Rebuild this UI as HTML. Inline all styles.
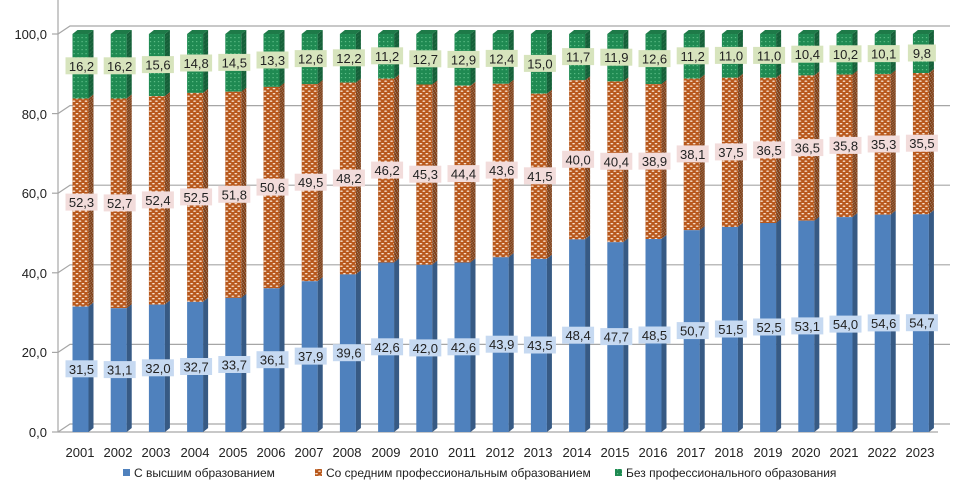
<!DOCTYPE html>
<html><head><meta charset="utf-8"><style>
html,body{margin:0;padding:0;background:#fff;}
svg{display:block;font-family:"Liberation Sans",Arial,sans-serif;}
.t{font-size:13px;fill:#222;text-anchor:middle;}
.ax{font-size:13px;fill:#222;}
</style></head><body>
<svg width="973" height="493" viewBox="0 0 973 493" xmlns="http://www.w3.org/2000/svg">
<defs>
<pattern id="po" width="6" height="5" patternUnits="userSpaceOnUse">
<rect width="6" height="5" fill="#b8581c"/>
<ellipse cx="1.5" cy="1.2" rx="1.4" ry="0.7" fill="#fbe7d6"/>
<ellipse cx="4.5" cy="3.7" rx="1.4" ry="0.7" fill="#fbe7d6"/>
</pattern>
<pattern id="pg" width="4" height="4" patternUnits="userSpaceOnUse">
<rect width="4" height="4" fill="#1f8a52"/>
<rect x="1" y="1" width="1.2" height="1.2" fill="#5fbf88"/>
</pattern>
</defs>
<g stroke="#a6a6a6" stroke-width="1.2" fill="none">
<line x1="58" y1="0" x2="58" y2="432"/>
<line x1="58" y1="432" x2="938" y2="432"/>
<polyline points="58,432 70,424 950,424"/>
<polyline points="58,352.4 70,344.4 950,344.4"/>
<polyline points="58,272.8 70,264.8 950,264.8"/>
<polyline points="58,193.2 70,185.2 950,185.2"/>
<polyline points="58,113.6 70,105.6 950,105.6"/>
<polyline points="58,34 70,26 950,26"/>
<line x1="52" y1="432" x2="58" y2="432"/><line x1="52" y1="352.4" x2="58" y2="352.4"/><line x1="52" y1="272.8" x2="58" y2="272.8"/><line x1="52" y1="193.2" x2="58" y2="193.2"/><line x1="52" y1="113.6" x2="58" y2="113.6"/><line x1="52" y1="34" x2="58" y2="34"/>
</g>
<g class="ax" text-anchor="end">
<text x="47" y="437">0,0</text><text x="47" y="357">20,0</text><text x="47" y="278">40,0</text><text x="47" y="198">60,0</text><text x="47" y="119">80,0</text><text x="47" y="39">100,0</text>
</g>

<g transform="translate(72.5,0)"><g id="b1"><rect y="34" width="16" height="64.5" fill="url(#pg)"/><rect y="98.5" width="16" height="208.1" fill="url(#po)"/><rect y="306.6" width="16" height="125.4" fill="#4f81bd"/></g><use href="#b1" transform="translate(16,0) skewY(-38.7) scale(.3125,1)"/><polygon points="16,432 21,428 21,30 16,34" fill="#000" opacity=".3"/><polygon points="0,34 16,34 21,30 5,30" fill="#1e7a48"/>
<rect x="-7" y="57.3" width="32" height="17" fill="#d7e4bd"/><text class="t" x="9" y="70.8">16,2</text><rect x="-7" y="193.6" width="32" height="17" fill="#f2dcdb"/><text class="t" x="9" y="207.1">52,3</text><rect x="-7" y="360.3" width="32" height="17" fill="#c6d9f1"/><text class="t" x="9" y="373.8">31,5</text></g>

<g transform="translate(110.7,0)"><g id="b2"><rect y="34" width="16" height="64.5" fill="url(#pg)"/><rect y="98.5" width="16" height="209.7" fill="url(#po)"/><rect y="308.2" width="16" height="123.8" fill="#4f81bd"/></g><use href="#b2" transform="translate(16,0) skewY(-38.7) scale(.3125,1)"/><polygon points="16,432 21,428 21,30 16,34" fill="#000" opacity=".3"/><polygon points="0,34 16,34 21,30 5,30" fill="#1e7a48"/>
<rect x="-7" y="57.3" width="32" height="17" fill="#d7e4bd"/><text class="t" x="9" y="70.8">16,2</text><rect x="-7" y="194.4" width="32" height="17" fill="#f2dcdb"/><text class="t" x="9" y="207.9">52,7</text><rect x="-7" y="361.1" width="32" height="17" fill="#c6d9f1"/><text class="t" x="9" y="374.6">31,1</text></g>

<g transform="translate(148.9,0)"><g id="b3"><rect y="34" width="16" height="62.1" fill="url(#pg)"/><rect y="96.1" width="16" height="208.5" fill="url(#po)"/><rect y="304.6" width="16" height="127.4" fill="#4f81bd"/></g><use href="#b3" transform="translate(16,0) skewY(-38.7) scale(.3125,1)"/><polygon points="16,432 21,428 21,30 16,34" fill="#000" opacity=".3"/><polygon points="0,34 16,34 21,30 5,30" fill="#1e7a48"/>
<rect x="-7" y="56.1" width="32" height="17" fill="#d7e4bd"/><text class="t" x="9" y="69.6">15,6</text><rect x="-7" y="191.4" width="32" height="17" fill="#f2dcdb"/><text class="t" x="9" y="204.9">52,4</text><rect x="-7" y="359.3" width="32" height="17" fill="#c6d9f1"/><text class="t" x="9" y="372.8">32,0</text></g>

<g transform="translate(187.1,0)"><g id="b4"><rect y="34" width="16" height="58.9" fill="url(#pg)"/><rect y="92.9" width="16" height="209" fill="url(#po)"/><rect y="301.9" width="16" height="130.1" fill="#4f81bd"/></g><use href="#b4" transform="translate(16,0) skewY(-38.7) scale(.3125,1)"/><polygon points="16,432 21,428 21,30 16,34" fill="#000" opacity=".3"/><polygon points="0,34 16,34 21,30 5,30" fill="#1e7a48"/>
<rect x="-7" y="54.5" width="32" height="17" fill="#d7e4bd"/><text class="t" x="9" y="68">14,8</text><rect x="-7" y="188.4" width="32" height="17" fill="#f2dcdb"/><text class="t" x="9" y="201.9">52,5</text><rect x="-7" y="358" width="32" height="17" fill="#c6d9f1"/><text class="t" x="9" y="371.5">32,7</text></g>

<g transform="translate(225.3,0)"><g id="b5"><rect y="34" width="16" height="57.7" fill="url(#pg)"/><rect y="91.7" width="16" height="206.2" fill="url(#po)"/><rect y="297.9" width="16" height="134.1" fill="#4f81bd"/></g><use href="#b5" transform="translate(16,0) skewY(-38.7) scale(.3125,1)"/><polygon points="16,432 21,428 21,30 16,34" fill="#000" opacity=".3"/><polygon points="0,34 16,34 21,30 5,30" fill="#1e7a48"/>
<rect x="-7" y="53.9" width="32" height="17" fill="#d7e4bd"/><text class="t" x="9" y="67.4">14,5</text><rect x="-7" y="185.8" width="32" height="17" fill="#f2dcdb"/><text class="t" x="9" y="199.3">51,8</text><rect x="-7" y="356" width="32" height="17" fill="#c6d9f1"/><text class="t" x="9" y="369.5">33,7</text></g>

<g transform="translate(263.5,0)"><g id="b6"><rect y="34" width="16" height="52.9" fill="url(#pg)"/><rect y="86.9" width="16" height="201.4" fill="url(#po)"/><rect y="288.3" width="16" height="143.7" fill="#4f81bd"/></g><use href="#b6" transform="translate(16,0) skewY(-38.7) scale(.3125,1)"/><polygon points="16,432 21,428 21,30 16,34" fill="#000" opacity=".3"/><polygon points="0,34 16,34 21,30 5,30" fill="#1e7a48"/>
<rect x="-7" y="51.5" width="32" height="17" fill="#d7e4bd"/><text class="t" x="9" y="65">13,3</text><rect x="-7" y="178.6" width="32" height="17" fill="#f2dcdb"/><text class="t" x="9" y="192.1">50,6</text><rect x="-7" y="351.2" width="32" height="17" fill="#c6d9f1"/><text class="t" x="9" y="364.7">36,1</text></g>

<g transform="translate(301.7,0)"><g id="b7"><rect y="34" width="16" height="50.1" fill="url(#pg)"/><rect y="84.1" width="16" height="197.1" fill="url(#po)"/><rect y="281.2" width="16" height="150.8" fill="#4f81bd"/></g><use href="#b7" transform="translate(16,0) skewY(-38.7) scale(.3125,1)"/><polygon points="16,432 21,428 21,30 16,34" fill="#000" opacity=".3"/><polygon points="0,34 16,34 21,30 5,30" fill="#1e7a48"/>
<rect x="-7" y="50.1" width="32" height="17" fill="#d7e4bd"/><text class="t" x="9" y="63.6">12,6</text><rect x="-7" y="173.7" width="32" height="17" fill="#f2dcdb"/><text class="t" x="9" y="187.2">49,5</text><rect x="-7" y="347.6" width="32" height="17" fill="#c6d9f1"/><text class="t" x="9" y="361.1">37,9</text></g>

<g transform="translate(339.9,0)"><g id="b8"><rect y="34" width="16" height="48.6" fill="url(#pg)"/><rect y="82.6" width="16" height="191.8" fill="url(#po)"/><rect y="274.4" width="16" height="157.6" fill="#4f81bd"/></g><use href="#b8" transform="translate(16,0) skewY(-38.7) scale(.3125,1)"/><polygon points="16,432 21,428 21,30 16,34" fill="#000" opacity=".3"/><polygon points="0,34 16,34 21,30 5,30" fill="#1e7a48"/>
<rect x="-7" y="49.3" width="32" height="17" fill="#d7e4bd"/><text class="t" x="9" y="62.8">12,2</text><rect x="-7" y="169.5" width="32" height="17" fill="#f2dcdb"/><text class="t" x="9" y="183">48,2</text><rect x="-7" y="344.2" width="32" height="17" fill="#c6d9f1"/><text class="t" x="9" y="357.7">39,6</text></g>

<g transform="translate(378.1,0)"><g id="b9"><rect y="34" width="16" height="44.6" fill="url(#pg)"/><rect y="78.6" width="16" height="183.9" fill="url(#po)"/><rect y="262.5" width="16" height="169.5" fill="#4f81bd"/></g><use href="#b9" transform="translate(16,0) skewY(-38.7) scale(.3125,1)"/><polygon points="16,432 21,428 21,30 16,34" fill="#000" opacity=".3"/><polygon points="0,34 16,34 21,30 5,30" fill="#1e7a48"/>
<rect x="-7" y="47.3" width="32" height="17" fill="#d7e4bd"/><text class="t" x="9" y="60.8">11,2</text><rect x="-7" y="161.6" width="32" height="17" fill="#f2dcdb"/><text class="t" x="9" y="175.1">46,2</text><rect x="-7" y="338.3" width="32" height="17" fill="#c6d9f1"/><text class="t" x="9" y="351.8">42,6</text></g>

<g transform="translate(416.3,0)"><g id="b10"><rect y="34" width="16" height="50.5" fill="url(#pg)"/><rect y="84.5" width="16" height="180.3" fill="url(#po)"/><rect y="264.8" width="16" height="167.2" fill="#4f81bd"/></g><use href="#b10" transform="translate(16,0) skewY(-38.7) scale(.3125,1)"/><polygon points="16,432 21,428 21,30 16,34" fill="#000" opacity=".3"/><polygon points="0,34 16,34 21,30 5,30" fill="#1e7a48"/>
<rect x="-7" y="50.3" width="32" height="17" fill="#d7e4bd"/><text class="t" x="9" y="63.8">12,7</text><rect x="-7" y="165.7" width="32" height="17" fill="#f2dcdb"/><text class="t" x="9" y="179.2">45,3</text><rect x="-7" y="339.4" width="32" height="17" fill="#c6d9f1"/><text class="t" x="9" y="352.9">42,0</text></g>

<g transform="translate(454.5,0)"><g id="b11"><rect y="34" width="16" height="51.7" fill="url(#pg)"/><rect y="85.7" width="16" height="176.8" fill="url(#po)"/><rect y="262.5" width="16" height="169.5" fill="#4f81bd"/></g><use href="#b11" transform="translate(16,0) skewY(-38.7) scale(.3125,1)"/><polygon points="16,432 21,428 21,30 16,34" fill="#000" opacity=".3"/><polygon points="0,34 16,34 21,30 5,30" fill="#1e7a48"/>
<rect x="-7" y="50.9" width="32" height="17" fill="#d7e4bd"/><text class="t" x="9" y="64.4">12,9</text><rect x="-7" y="165.1" width="32" height="17" fill="#f2dcdb"/><text class="t" x="9" y="178.6">44,4</text><rect x="-7" y="338.3" width="32" height="17" fill="#c6d9f1"/><text class="t" x="9" y="351.8">42,6</text></g>

<g transform="translate(492.7,0)"><g id="b12"><rect y="34" width="16" height="49.8" fill="url(#pg)"/><rect y="83.8" width="16" height="173.5" fill="url(#po)"/><rect y="257.3" width="16" height="174.7" fill="#4f81bd"/></g><use href="#b12" transform="translate(16,0) skewY(-38.7) scale(.3125,1)"/><polygon points="16,432 21,428 21,30 16,34" fill="#000" opacity=".3"/><polygon points="0,34 16,34 21,30 5,30" fill="#1e7a48"/>
<rect x="-7" y="49.9" width="32" height="17" fill="#d7e4bd"/><text class="t" x="9" y="63.4">12,4</text><rect x="-7" y="161.6" width="32" height="17" fill="#f2dcdb"/><text class="t" x="9" y="175.1">43,6</text><rect x="-7" y="335.7" width="32" height="17" fill="#c6d9f1"/><text class="t" x="9" y="349.2">43,9</text></g>

<g transform="translate(530.9,0)"><g id="b13"><rect y="34" width="16" height="59.7" fill="url(#pg)"/><rect y="93.7" width="16" height="165.2" fill="url(#po)"/><rect y="258.9" width="16" height="173.1" fill="#4f81bd"/></g><use href="#b13" transform="translate(16,0) skewY(-38.7) scale(.3125,1)"/><polygon points="16,432 21,428 21,30 16,34" fill="#000" opacity=".3"/><polygon points="0,34 16,34 21,30 5,30" fill="#1e7a48"/>
<rect x="-7" y="54.9" width="32" height="17" fill="#d7e4bd"/><text class="t" x="9" y="68.4">15,0</text><rect x="-7" y="167.3" width="32" height="17" fill="#f2dcdb"/><text class="t" x="9" y="180.8">41,5</text><rect x="-7" y="336.5" width="32" height="17" fill="#c6d9f1"/><text class="t" x="9" y="350">43,5</text></g>

<g transform="translate(569.1,0)"><g id="b14"><rect y="34" width="16" height="46.2" fill="url(#pg)"/><rect y="80.2" width="16" height="159.2" fill="url(#po)"/><rect y="239.4" width="16" height="192.6" fill="#4f81bd"/></g><use href="#b14" transform="translate(16,0) skewY(-38.7) scale(.3125,1)"/><polygon points="16,432 21,428 21,30 16,34" fill="#000" opacity=".3"/><polygon points="0,34 16,34 21,30 5,30" fill="#1e7a48"/>
<rect x="-7" y="48.1" width="32" height="17" fill="#d7e4bd"/><text class="t" x="9" y="61.6">11,7</text><rect x="-7" y="150.8" width="32" height="17" fill="#f2dcdb"/><text class="t" x="9" y="164.3">40,0</text><rect x="-7" y="326.7" width="32" height="17" fill="#c6d9f1"/><text class="t" x="9" y="340.2">48,4</text></g>

<g transform="translate(607.3,0)"><g id="b15"><rect y="34" width="16" height="47.4" fill="url(#pg)"/><rect y="81.4" width="16" height="160.8" fill="url(#po)"/><rect y="242.2" width="16" height="189.8" fill="#4f81bd"/></g><use href="#b15" transform="translate(16,0) skewY(-38.7) scale(.3125,1)"/><polygon points="16,432 21,428 21,30 16,34" fill="#000" opacity=".3"/><polygon points="0,34 16,34 21,30 5,30" fill="#1e7a48"/>
<rect x="-7" y="48.7" width="32" height="17" fill="#d7e4bd"/><text class="t" x="9" y="62.2">11,9</text><rect x="-7" y="152.8" width="32" height="17" fill="#f2dcdb"/><text class="t" x="9" y="166.3">40,4</text><rect x="-7" y="328.1" width="32" height="17" fill="#c6d9f1"/><text class="t" x="9" y="341.6">47,7</text></g>

<g transform="translate(645.5,0)"><g id="b16"><rect y="34" width="16" height="50.1" fill="url(#pg)"/><rect y="84.1" width="16" height="154.9" fill="url(#po)"/><rect y="239" width="16" height="193" fill="#4f81bd"/></g><use href="#b16" transform="translate(16,0) skewY(-38.7) scale(.3125,1)"/><polygon points="16,432 21,428 21,30 16,34" fill="#000" opacity=".3"/><polygon points="0,34 16,34 21,30 5,30" fill="#1e7a48"/>
<rect x="-7" y="50.1" width="32" height="17" fill="#d7e4bd"/><text class="t" x="9" y="63.6">12,6</text><rect x="-7" y="152.6" width="32" height="17" fill="#f2dcdb"/><text class="t" x="9" y="166.1">38,9</text><rect x="-7" y="326.5" width="32" height="17" fill="#c6d9f1"/><text class="t" x="9" y="340">48,5</text></g>

<g transform="translate(683.7,0)"><g id="b17"><rect y="34" width="16" height="44.6" fill="url(#pg)"/><rect y="78.6" width="16" height="151.6" fill="url(#po)"/><rect y="230.2" width="16" height="201.8" fill="#4f81bd"/></g><use href="#b17" transform="translate(16,0) skewY(-38.7) scale(.3125,1)"/><polygon points="16,432 21,428 21,30 16,34" fill="#000" opacity=".3"/><polygon points="0,34 16,34 21,30 5,30" fill="#1e7a48"/>
<rect x="-7" y="47.3" width="32" height="17" fill="#d7e4bd"/><text class="t" x="9" y="60.8">11,2</text><rect x="-7" y="145.4" width="32" height="17" fill="#f2dcdb"/><text class="t" x="9" y="158.9">38,1</text><rect x="-7" y="322.1" width="32" height="17" fill="#c6d9f1"/><text class="t" x="9" y="335.6">50,7</text></g>

<g transform="translate(721.9,0)"><g id="b18"><rect y="34" width="16" height="43.8" fill="url(#pg)"/><rect y="77.8" width="16" height="149.2" fill="url(#po)"/><rect y="227" width="16" height="205" fill="#4f81bd"/></g><use href="#b18" transform="translate(16,0) skewY(-38.7) scale(.3125,1)"/><polygon points="16,432 21,428 21,30 16,34" fill="#000" opacity=".3"/><polygon points="0,34 16,34 21,30 5,30" fill="#1e7a48"/>
<rect x="-7" y="46.9" width="32" height="17" fill="#d7e4bd"/><text class="t" x="9" y="60.4">11,0</text><rect x="-7" y="143.4" width="32" height="17" fill="#f2dcdb"/><text class="t" x="9" y="156.9">37,5</text><rect x="-7" y="320.5" width="32" height="17" fill="#c6d9f1"/><text class="t" x="9" y="334">51,5</text></g>

<g transform="translate(760.1,0)"><g id="b19"><rect y="34" width="16" height="43.8" fill="url(#pg)"/><rect y="77.8" width="16" height="145.2" fill="url(#po)"/><rect y="223" width="16" height="209" fill="#4f81bd"/></g><use href="#b19" transform="translate(16,0) skewY(-38.7) scale(.3125,1)"/><polygon points="16,432 21,428 21,30 16,34" fill="#000" opacity=".3"/><polygon points="0,34 16,34 21,30 5,30" fill="#1e7a48"/>
<rect x="-7" y="46.9" width="32" height="17" fill="#d7e4bd"/><text class="t" x="9" y="60.4">11,0</text><rect x="-7" y="141.4" width="32" height="17" fill="#f2dcdb"/><text class="t" x="9" y="154.9">36,5</text><rect x="-7" y="318.5" width="32" height="17" fill="#c6d9f1"/><text class="t" x="9" y="332">52,5</text></g>

<g transform="translate(798.3,0)"><g id="b20"><rect y="34" width="16" height="41.4" fill="url(#pg)"/><rect y="75.4" width="16" height="145.3" fill="url(#po)"/><rect y="220.7" width="16" height="211.3" fill="#4f81bd"/></g><use href="#b20" transform="translate(16,0) skewY(-38.7) scale(.3125,1)"/><polygon points="16,432 21,428 21,30 16,34" fill="#000" opacity=".3"/><polygon points="0,34 16,34 21,30 5,30" fill="#1e7a48"/>
<rect x="-7" y="45.7" width="32" height="17" fill="#d7e4bd"/><text class="t" x="9" y="59.2">10,4</text><rect x="-7" y="139.1" width="32" height="17" fill="#f2dcdb"/><text class="t" x="9" y="152.6">36,5</text><rect x="-7" y="317.4" width="32" height="17" fill="#c6d9f1"/><text class="t" x="9" y="330.9">53,1</text></g>

<g transform="translate(836.5,0)"><g id="b21"><rect y="34" width="16" height="40.6" fill="url(#pg)"/><rect y="74.6" width="16" height="142.5" fill="url(#po)"/><rect y="217.1" width="16" height="214.9" fill="#4f81bd"/></g><use href="#b21" transform="translate(16,0) skewY(-38.7) scale(.3125,1)"/><polygon points="16,432 21,428 21,30 16,34" fill="#000" opacity=".3"/><polygon points="0,34 16,34 21,30 5,30" fill="#1e7a48"/>
<rect x="-7" y="45.3" width="32" height="17" fill="#d7e4bd"/><text class="t" x="9" y="58.8">10,2</text><rect x="-7" y="136.9" width="32" height="17" fill="#f2dcdb"/><text class="t" x="9" y="150.4">35,8</text><rect x="-7" y="315.6" width="32" height="17" fill="#c6d9f1"/><text class="t" x="9" y="329.1">54,0</text></g>

<g transform="translate(874.7,0)"><g id="b22"><rect y="34" width="16" height="40.2" fill="url(#pg)"/><rect y="74.2" width="16" height="140.5" fill="url(#po)"/><rect y="214.7" width="16" height="217.3" fill="#4f81bd"/></g><use href="#b22" transform="translate(16,0) skewY(-38.7) scale(.3125,1)"/><polygon points="16,432 21,428 21,30 16,34" fill="#000" opacity=".3"/><polygon points="0,34 16,34 21,30 5,30" fill="#1e7a48"/>
<rect x="-7" y="45.1" width="32" height="17" fill="#d7e4bd"/><text class="t" x="9" y="58.6">10,1</text><rect x="-7" y="135.5" width="32" height="17" fill="#f2dcdb"/><text class="t" x="9" y="149">35,3</text><rect x="-7" y="314.4" width="32" height="17" fill="#c6d9f1"/><text class="t" x="9" y="327.9">54,6</text></g>

<g transform="translate(912.9,0)"><g id="b23"><rect y="34" width="16" height="39" fill="url(#pg)"/><rect y="73" width="16" height="141.3" fill="url(#po)"/><rect y="214.3" width="16" height="217.7" fill="#4f81bd"/></g><use href="#b23" transform="translate(16,0) skewY(-38.7) scale(.3125,1)"/><polygon points="16,432 21,428 21,30 16,34" fill="#000" opacity=".3"/><polygon points="0,34 16,34 21,30 5,30" fill="#1e7a48"/>
<rect x="-5" y="44.5" width="28" height="17" fill="#d7e4bd"/><text class="t" x="9" y="58">9,8</text><rect x="-7" y="134.7" width="32" height="17" fill="#f2dcdb"/><text class="t" x="9" y="148.2">35,5</text><rect x="-7" y="314.2" width="32" height="17" fill="#c6d9f1"/><text class="t" x="9" y="327.7">54,7</text></g>

<g class="ax" text-anchor="middle">
<text x="80" y="457">2001</text><text x="118" y="457">2002</text><text x="156" y="457">2003</text><text x="195" y="457">2004</text><text x="233" y="457">2005</text><text x="271" y="457">2006</text><text x="309" y="457">2007</text><text x="347" y="457">2008</text><text x="386" y="457">2009</text><text x="424" y="457">2010</text><text x="462" y="457">2011</text><text x="500" y="457">2012</text><text x="538" y="457">2013</text><text x="577" y="457">2014</text><text x="615" y="457">2015</text><text x="653" y="457">2016</text><text x="691" y="457">2017</text><text x="729" y="457">2018</text><text x="768" y="457">2019</text><text x="806" y="457">2020</text><text x="844" y="457">2021</text><text x="882" y="457">2022</text><text x="920" y="457">2023</text>
</g>
<rect x="123" y="469" width="7" height="7" fill="#4f81bd"/>
<text x="134" y="477" font-size="12" fill="#222">С высшим образованием</text>
<rect x="315" y="469" width="7" height="7" fill="url(#po)"/>
<text x="326" y="477" font-size="12" fill="#222">Со средним профессиональным образованием</text>
<rect x="615" y="469" width="7" height="7" fill="url(#pg)"/>
<text x="626" y="477" font-size="12" fill="#222">Без профессионального образования</text>
</svg>
</body></html>
